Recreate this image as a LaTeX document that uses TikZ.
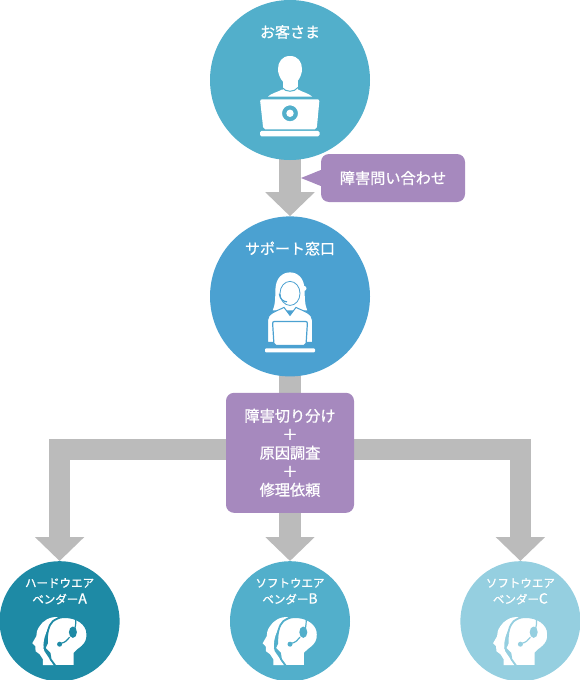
\documentclass[tikz,border=0pt]{standalone}
\usepackage{fontspec}
\setmainfont{Noto Sans CJK JP}[RawFeature={embolden=0.8}]
\usetikzlibrary{arrows.meta,positioning,backgrounds}
\definecolor{custblue}{HTML}{52AFCB}
\definecolor{deskblue}{HTML}{4BA1D1}
\definecolor{vendark}{HTML}{1E8AA5}
\definecolor{venlight}{HTML}{95CFE0}
\definecolor{boxpurple}{HTML}{A689BE}
\definecolor{arrgray}{HTML}{BBBBBB}
\newcommand{\venltr}[1]{{\fontsize{14}{16.3}\selectfont #1}}
\begin{document}
\begin{tikzpicture}[x=1pt,y=-1pt,
  hub/.style={circle,minimum size=160pt,inner sep=0pt,fill=#1},
  vendor/.style={circle,minimum size=120pt,inner sep=0pt,fill=#1},
  note/.style={rounded corners=8pt,fill=boxpurple,text=white,align=center,inner sep=0pt,font=\fontsize{15.2}{18.5}\selectfont},
  lbl/.style={text=white,inner sep=0pt,align=center,font=\fontsize{15}{18}\selectfont},
  venlbl/.style={text=white,inner sep=0pt,align=center,font=\fontsize{11.5}{16.3}\selectfont},
  arr/.style={-{Triangle[length=24pt,width=48pt]},arrgray,line width=21pt},
  pics/custicon/.style={code={
    \fill[white] (0,-24) .. controls (8,-24) and (12,-18) .. (12,-11) .. controls (12,-4) and (7,5) .. (0,5) .. controls (-7,5) and (-12,-4) .. (-12,-11) .. controls (-12,-18) and (-8,-24) .. (0,-24) -- cycle;
    \fill[white] (-7.5,0) rectangle (7.5,12);
    \fill[white] (-22,16.5) .. controls (-18,13) and (-12,12) .. (-8,9.5) -- (8,9.5) .. controls (12,12) and (18,13) .. (22,16.5) -- cycle;
    \draw[#1,line width=1pt] (-8,7.5) .. controls (-4,12.5) and (4,12.5) .. (8,7.5);
    \fill[white,even odd rule,rounded corners=2pt] (-30,19.3) -- (29.5,19.3) -- (26.7,49.3) -- (-26.7,49.3) -- cycle (0,33.3) circle (8) (0,33.3) circle (3.7);
    \fill[white,rounded corners=1.5pt] (-30,50.8) rectangle (29.5,56.3);
  }},
  pics/deskicon/.style={code={
    \fill[white] (-17.3,14) .. controls (-14,6) and (-15,0) .. (-14.5,-8) .. controls (-14,-18) and (-8,-24) .. (0,-24) .. controls (8,-24) and (14,-18) .. (14.5,-8) .. controls (15,0) and (14,6) .. (17.3,14) -- cycle;
    \fill[white] (14,-8) circle (2.5);
    \filldraw[fill=white,draw=#1,line width=.8pt] (0,-3) ellipse [x radius=10,y radius=12];
    \draw[#1,line width=1.2pt] (-10.7,-2.7) .. controls (-10,3) and (-7,5) .. (-3,5.5);
    \filldraw[fill=white,draw=#1,line width=1pt] (-22.5,46) -- (-22.5,24) .. controls (-22.5,17) and (-14,15) .. (-6,11) -- (0,19) -- (6,11) .. controls (14,15) and (22.5,17) .. (22.5,24) -- (22.5,46) -- cycle;
    \filldraw[fill=white,draw=#1,line width=1.2pt,rounded corners=2pt] (-17.5,25) -- (17.5,25) -- (16,49) -- (-16,49) -- cycle;
    \fill[white,rounded corners=1pt] (-25,52) rectangle (25,56);
  }},
  pics/headicon/.style={code={
    \fill[white] (-1.7,-4) .. controls (-10,-5) and (-17,0) .. (-20,5) .. controls (-23,9) and (-23,12) .. (-23.3,15) -- (-27.3,22) -- (-24.3,25) -- (-24,30) -- (-20,33) -- (-16.7,38) -- (-16.7,44) -- (-5.7,44) -- (-13.3,33) .. controls (-15,31) and (-16,29) .. (-16,27) .. controls (-17,18) and (-13,5) .. (-1.7,-4) -- cycle;
    \filldraw[fill=white,draw=#1,line width=1.8pt] (3.3,-4) .. controls (17,-5) and (28,3) .. (27.7,13) .. controls (28,19) and (26,22) .. (23,25) .. controls (20,28) and (17,29) .. (15,32) -- (15,44.9) -- (-4,44.9) -- (-9,38) -- (-10,32) -- (-15,27) -- (-12.7,22) .. controls (-13,12) and (-11,4) .. (-6.7,0) .. controls (-4,-2) and (0,-4) .. (3.3,-4) -- cycle;
    \draw[#1,line width=1.2pt] (16,-3) .. controls (16.5,1) and (16,5) .. (15,8);
    \fill[#1] (13.3,11) ellipse [x radius=4,y radius=5.7];
    \draw[#1,line width=1.2pt] (10,16) .. controls (8,19) and (5,21.5) .. (1.7,22);
    \fill[#1] (0,23) circle (2.5);
  }}]
\useasboundingbox (0,0) rectangle (580,680);
\node[hub=custblue] (cust) at (290,80) {};
\node[hub=deskblue,below=56pt of cust] (desk) {};
\node[note,minimum width=128pt,minimum height=120pt,below=16pt of desk] (triage) {障害切り分け\\＋\\原因調査\\＋\\修理依頼};
\node[vendor=custblue,below=48pt of triage] (venB) {};
\node[vendor=vendark,left=110pt of venB] (venA) {};
\node[vendor=venlight,right=110pt of venB] (venC) {};
\node[note,minimum width=144pt,minimum height=48pt] (ask) at (393,178) {障害問い合わせ};
\coordinate (asktip) at (301,178);
\node[lbl] (custlbl) at ([yshift=48pt]cust.center) {お客さま};
\node[lbl] (desklbl) at ([yshift=48pt]desk.center) {サポート窓口};
\node[venlbl] (venAlbl) at ([yshift=30pt]venA.center) {ハードウエア\\ベンダー\venltr{A}};
\node[venlbl] (venBlbl) at ([yshift=30pt]venB.center) {ソフトウエア\\ベンダー\venltr{B}};
\node[venlbl] (venClbl) at ([yshift=30pt]venC.center) {ソフトウエア\\ベンダー\venltr{C}};
\pic at (cust) {custicon=custblue};
\pic at (desk) {deskicon=deskblue};
\pic at (venA) {headicon=vendark};
\pic at (venB) {headicon=custblue};
\pic at (venC) {headicon=venlight};
\begin{scope}[on background layer]
\draw[arr,line width=22pt] (cust.center) -- (desk.north);
\draw[arrgray,line width=22pt] (desk.center) -- (triage.center);
\draw[arr,line width=22pt] (triage.center) -- (venB.north);
\draw[arr] ([yshift=3pt]triage.center) -| (venA.north);
\draw[arr] ([yshift=3pt]triage.center) -| (venC.north);
\fill[boxpurple] ([yshift=8pt]ask.west) -- (asktip) -- ([yshift=-8pt]ask.west) -- cycle;
\end{scope}
\end{tikzpicture}
\end{document}
